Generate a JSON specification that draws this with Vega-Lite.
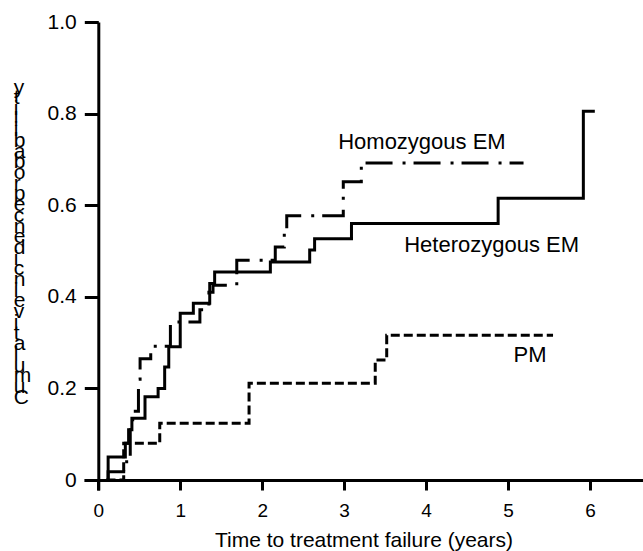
{
  "$schema": "https://vega.github.io/schema/vega-lite/v6.json",
  "autosize": {"type": "none"},
  "padding": {"left": 84, "top": 22, "right": 0, "bottom": 61},
  "width": 559,
  "height": 468,
  "background": "white",
  "config": {
    "view": {"stroke": null},
    "font": "Liberation Sans",
    "axis": {"grid": false, "domainColor": "black", "tickColor": "black", "labelColor": "black", "titleColor": "black", "labelFont": "Liberation Sans", "titleFont": "Liberation Sans", "titleFontWeight": "normal"}
  },
  "datasets": {
    "curves": [
      {"group": "Heterozygous EM", "t": 0.10, "p": 0},
      {"group": "Heterozygous EM", "t": 0.12, "p": 0.05},
      {"group": "Heterozygous EM", "t": 0.33, "p": 0.08},
      {"group": "Heterozygous EM", "t": 0.37, "p": 0.11},
      {"group": "Heterozygous EM", "t": 0.41, "p": 0.135},
      {"group": "Heterozygous EM", "t": 0.57, "p": 0.182},
      {"group": "Heterozygous EM", "t": 0.73, "p": 0.2},
      {"group": "Heterozygous EM", "t": 0.81, "p": 0.247},
      {"group": "Heterozygous EM", "t": 0.86, "p": 0.291},
      {"group": "Heterozygous EM", "t": 1.0, "p": 0.364},
      {"group": "Heterozygous EM", "t": 1.16, "p": 0.386},
      {"group": "Heterozygous EM", "t": 1.36, "p": 0.429},
      {"group": "Heterozygous EM", "t": 1.42, "p": 0.454},
      {"group": "Heterozygous EM", "t": 2.1, "p": 0.476},
      {"group": "Heterozygous EM", "t": 2.58, "p": 0.502},
      {"group": "Heterozygous EM", "t": 2.64, "p": 0.527},
      {"group": "Heterozygous EM", "t": 3.09, "p": 0.56},
      {"group": "Heterozygous EM", "t": 4.88, "p": 0.615},
      {"group": "Heterozygous EM", "t": 5.92, "p": 0.805},
      {"group": "Heterozygous EM", "t": 6.06, "p": 0.805},
      {"group": "Homozygous EM", "t": 0.10, "p": 0},
      {"group": "Homozygous EM", "t": 0.12, "p": 0.018},
      {"group": "Homozygous EM", "t": 0.31, "p": 0.04},
      {"group": "Homozygous EM", "t": 0.39, "p": 0.11},
      {"group": "Homozygous EM", "t": 0.42, "p": 0.15},
      {"group": "Homozygous EM", "t": 0.49, "p": 0.22},
      {"group": "Homozygous EM", "t": 0.51, "p": 0.265},
      {"group": "Homozygous EM", "t": 0.64, "p": 0.292},
      {"group": "Homozygous EM", "t": 0.88, "p": 0.345},
      {"group": "Homozygous EM", "t": 1.24, "p": 0.372},
      {"group": "Homozygous EM", "t": 1.35, "p": 0.41},
      {"group": "Homozygous EM", "t": 1.4, "p": 0.425},
      {"group": "Homozygous EM", "t": 1.69, "p": 0.48},
      {"group": "Homozygous EM", "t": 2.16, "p": 0.509},
      {"group": "Homozygous EM", "t": 2.27, "p": 0.545},
      {"group": "Homozygous EM", "t": 2.3, "p": 0.577},
      {"group": "Homozygous EM", "t": 2.99, "p": 0.651},
      {"group": "Homozygous EM", "t": 3.21, "p": 0.692},
      {"group": "Homozygous EM", "t": 5.19, "p": 0.692},
      {"group": "PM", "t": 0.10, "p": 0},
      {"group": "PM", "t": 0.31, "p": 0.08},
      {"group": "PM", "t": 0.75, "p": 0.124},
      {"group": "PM", "t": 1.84, "p": 0.211},
      {"group": "PM", "t": 3.38, "p": 0.262},
      {"group": "PM", "t": 3.52, "p": 0.316},
      {"group": "PM", "t": 5.55, "p": 0.316}
    ],
    "labels": [
      {"label": "Homozygous EM", "t": 3.95, "p": 0.738},
      {"label": "Heterozygous EM", "t": 4.8, "p": 0.513},
      {"label": "PM", "t": 5.27, "p": 0.273}
    ]
  },
  "layer": [
    {
      "data": {"name": "curves"},
      "mark": {"type": "line", "interpolate": "step-after", "strokeWidth": 3, "strokeCap": "butt", "color": "black"},
      "encoding": {
        "x": {"field": "t", "type": "quantitative", "scale": {"domain": [-0.1745, 6.648], "nice": false, "zero": false},
          "axis": {"values": [0, 1, 2, 3, 4, 5, 6], "format": "d", "offset": -10, "domainWidth": 3, "tickWidth": 3, "tickSize": 10, "labelFontSize": 19, "labelPadding": 11, "title": "Time to treatment failure (years)", "titleFontSize": 21, "titleBaseline": "alphabetic", "titleY": 66}},
        "y": {"field": "p", "type": "quantitative", "scale": {"domain": [-0.0218, 1.0], "nice": false, "zero": false},
          "axis": {"values": [0, 0.2, 0.4, 0.6, 0.8, 1.0], "labelExpr": "datum.value == 0 ? '0' : format(datum.value, '.1f')", "offset": -14.3, "domainWidth": 3, "tickWidth": 3, "tickSize": 14, "labelFontSize": 21, "labelPadding": 8,
            "title": ["y","t","i","l","i","b","a","b","o","r","p","","e","c","n","e","d","i","c","n","i","","e","v","i","t","a","l","u","m","u","C"],
            "titleAngle": 0, "titleFontSize": 21, "titleLineHeight": 10.7, "titleAlign": "left", "titleBaseline": "top", "titleX": -85, "titleY": 54}},
        "detail": {"field": "group"},
        "strokeDash": {"field": "group", "type": "nominal", "scale": {"domain": ["Heterozygous EM", "Homozygous EM", "PM"], "range": [[1, 0], [27, 10, 3, 8], [9, 4]]}, "legend": null}
      }
    },
    {
      "data": {"name": "labels"},
      "mark": {"type": "text", "fontSize": 22, "font": "Liberation Sans", "align": "center", "baseline": "middle", "color": "black"},
      "encoding": {
        "x": {"field": "t", "type": "quantitative"},
        "y": {"field": "p", "type": "quantitative"},
        "text": {"field": "label"}
      }
    }
  ]
}
